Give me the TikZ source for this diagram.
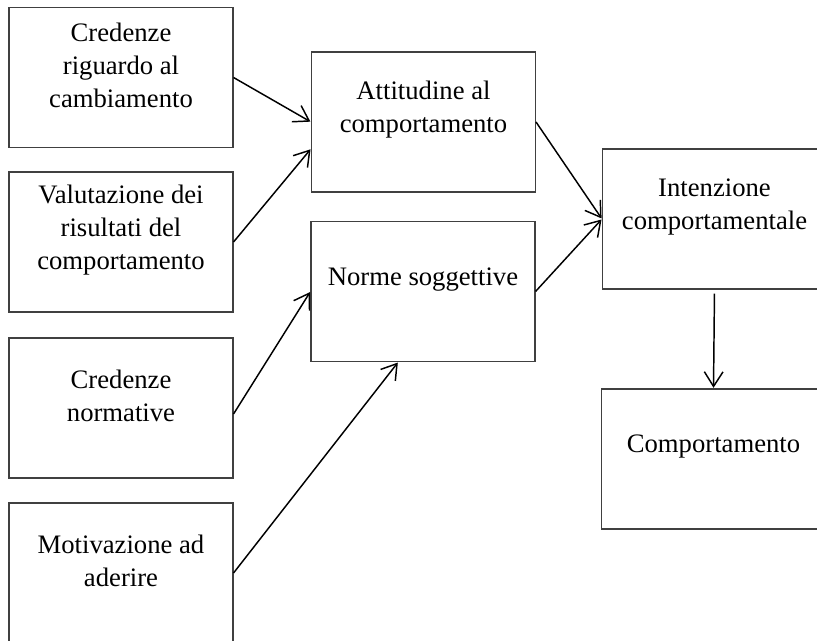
\documentclass[tikz,border=0pt]{standalone}
\usepackage{fontspec}
\setmainfont{Liberation Serif}
\usetikzlibrary{arrows.meta, calc}
\newcommand{\tboxpad}{\par\vspace*{18pt}}

\begin{document}
\begin{tikzpicture}[x=0.75pt, y=-0.75pt,
        tbox/.style={rectangle, draw=black!75, line width=0.8pt, minimum width=168pt, minimum height=105pt, text width=160pt, align=flush center, inner sep=0pt, font=\fontsize{20}{24.75}\selectfont, execute at end node=\tboxpad},
        arr/.style={-{Straight Barb[length=11pt, width=14pt, line width=1.1pt]}, line width=1.1pt, black, shorten >=0.5pt},
    ]
    \useasboundingbox (0,0) rectangle (817,641);
    % left column
    \node[tbox] at (121,77.5) (cred) {Credenze\\riguardo al\\cambiamento};
    \node[tbox] at (121,242) (valut) {Valutazione dei\\risultati del\\comportamento};
    \node[tbox] at (121,408) (cnorm) {Credenze\\normative};
    \node[tbox] at (121,573) (motiv) {Motivazione ad\\aderire};
    % middle column
    \node[tbox] at (423.5,122) (attit) {Attitudine al\\comportamento};
    \node[tbox] at (423,291.5) (norme) {Norme soggettive};
    % right column
    \node[tbox] at (714.5,219) (inten) {Intenzione\\comportamentale};
    \node[tbox] at (713.5,459) (compo) {Comportamento};
    \draw[arr] (cred.east) -- (attit.west);
    \draw[arr] (valut.east) -- ($(attit.south west)!0.31!(attit.north west)$);
    \draw[arr] ([yshift=-4.5pt]cnorm.east) -- (norme.west);
    \draw[arr] (motiv.east) -- ($(norme.south west)!0.39!(norme.south east)$);
    \draw[arr] (attit.east) -- (inten.west);
    \draw[arr] (norme.east) -- (inten.west);
    \draw[arr, shorten <=3pt] (inten.south) -- (compo.north);
\end{tikzpicture}
\end{document}
